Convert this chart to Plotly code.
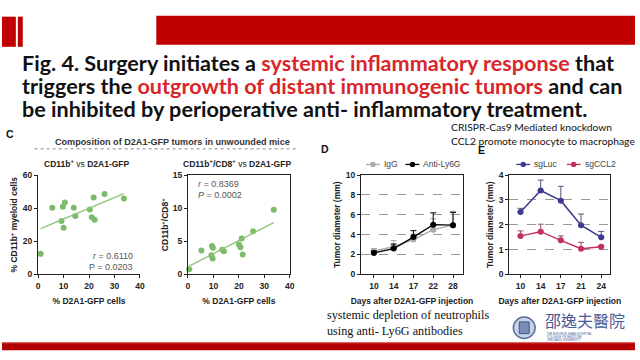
import numpy as np
import plotly.graph_objects as go

W, H = 640, 360

# ---------------- data ----------------
# Panel C (left): CD11b+ vs D2A1-GFP
c1_gfp = [1.0, 5.6, 9.7, 10.5, 9.2, 10.0, 14.0, 14.6, 20.3, 21.8, 21.1, 22.2, 26.1, 33.7]
c1_cd11b = [12.4, 40.2, 40.8, 43.5, 32.2, 28.1, 40.2, 35.3, 39.2, 46.5, 34.5, 33.0, 48.6, 45.9]
# Panel C (right): CD11b+/CD8+ vs D2A1-GFP
c2_gfp = [0.5, 5.3, 9.4, 9.8, 9.2, 9.7, 13.5, 14.1, 20.0, 20.6, 21.5, 21.1, 25.6, 33.7]
c2_ratio = [0.78, 3.6, 4.3, 4.0, 2.9, 2.4, 3.7, 3.5, 4.5, 4.1, 3.0, 5.4, 6.5, 9.75]

# Panel D
d_days = ["10", "14", "17", "22", "28"]
d_names = ["IgG", "Anti-Ly6G"]
d_igg = [2.35, 2.8, 3.5, 4.5, 4.95]
d_igg_err = [0.25, 0.6, 0.55, 1.1, 1.4]
d_ly6g = [2.15, 2.6, 3.75, 5.0, 4.95]
d_ly6g_err = [0.2, 0.45, 0.65, 1.2, 1.3]

# Panel E
e_days = ["10", "14", "17", "21", "24"]
e_names = ["sgLuc", "sgCCL2"]
e_sgluc = [2.51, 3.38, 2.97, 1.98, 1.49]
e_sgluc_err = [0.15, 0.42, 0.58, 0.45, 0.24]
e_sgccl2 = [1.55, 1.72, 1.37, 1.03, 1.11]
e_sgccl2_err = [0.2, 0.3, 0.18, 0.26, 0.04]
e_sig = ["**", "*", "*", "", ""]

GREEN = "#7dbb6a"
GREEN_LINE = "#8cc47a"
GRAY = "#aaaaaa"
BLACK = "#000000"
NAVY = "#3d3b8e"
CRIMSON = "#c2315b"
RED = "#c00000"
TXT = "#222222"


def fx(px):
    return px / W


def fy(py):
    return 1 - py / H


fig = go.Figure()

# ---- C1 ----
fig.add_trace(go.Scatter(x=c1_gfp, y=c1_cd11b, mode="markers", xaxis="x", yaxis="y",
                         marker=dict(color=GREEN, size=6), cliponaxis=False))
k1 = np.polyfit(c1_gfp, c1_cd11b, 1)
xs1 = [min(c1_gfp), max(c1_gfp)]
fig.add_trace(go.Scatter(x=xs1, y=list(np.polyval(k1, xs1)), mode="lines", xaxis="x", yaxis="y",
                         line=dict(color=GREEN_LINE, width=1.3)))

# ---- C2 ----
fig.add_trace(go.Scatter(x=c2_gfp, y=c2_ratio, mode="markers", xaxis="x2", yaxis="y2",
                         marker=dict(color=GREEN, size=6), cliponaxis=False))
k2 = np.polyfit(c2_gfp, c2_ratio, 1)
xs2 = [min(c2_gfp), max(c2_gfp)]
fig.add_trace(go.Scatter(x=xs2, y=list(np.polyval(k2, xs2)), mode="lines", xaxis="x2", yaxis="y2",
                         line=dict(color=GREEN_LINE, width=1.3)))


def series(x, y, err, name, color, errcolor, xa, ya, lw):
    fig.add_trace(go.Scatter(x=x, y=y, mode="lines+markers", name=name, xaxis=xa, yaxis=ya,
                             line=dict(color=color, width=lw), marker=dict(color=color, size=6),
                             error_y=dict(type="data", array=err, arrayminus=[0] * len(err), symmetric=False,
                                          color=errcolor, width=3, thickness=1),
                             cliponaxis=False))


series(d_days, d_igg, d_igg_err, d_names[0], GRAY, GRAY, "x3", "y3", 1.3)
series(d_days, d_ly6g, d_ly6g_err, d_names[1], BLACK, BLACK, "x3", "y3", 1.3)
series(e_days, e_sgluc, e_sgluc_err, e_names[0], NAVY, "#555577", "x4", "y4", 1.5)
series(e_days, e_sgccl2, e_sgccl2_err, e_names[1], CRIMSON, "#885566", "x4", "y4", 1.5)

AX_FONT = dict(family="Liberation Sans, Arial", size=8.5, color=TXT, weight="bold")
common = dict(showline=True, linecolor="#222", linewidth=1.2, ticks="outside", ticklen=3,
              tickwidth=1, tickcolor="#222", tickfont=AX_FONT, zeroline=False, showgrid=False)

ytitle_font = dict(family="Liberation Sans, Arial", size=8.5, color=TXT, weight="bold")
grid = {"showgrid": True, "gridcolor": "#999", "gridwidth": 0.8, "griddash": "dash"}

fig.update_layout(
    width=W, height=H, margin=dict(l=0, r=0, t=0, b=0), showlegend=False,
    paper_bgcolor="white", plot_bgcolor="white",
    xaxis=dict(domain=[fx(36.5), fx(139.5)], range=[0, 40], tickvals=[0, 10, 20, 30, 40], anchor="y",
               title=dict(text="% D2A1-GFP cells", font=ytitle_font, standoff=8), **common),
    yaxis=dict(domain=[fy(277), fy(175)], range=[0, 60], tickvals=[0, 20, 40, 60], anchor="x",
               title=dict(text="% CD11b<sup>+</sup> myeloid cells", font=ytitle_font, standoff=3), **common),
    xaxis2=dict(domain=[fx(188), fx(291)], range=[0, 40], tickvals=[0, 10, 20, 30, 40], anchor="y2",
                mirror=True, title=dict(text="% D2A1-GFP cells", font=ytitle_font, standoff=8), **common),
    yaxis2=dict(domain=[fy(277), fy(175)], range=[0, 15], tickvals=[0, 5, 10, 15], anchor="x2",
                mirror=True, title=dict(text="CD11b<sup>+</sup>/CD8<sup>+</sup>", font=ytitle_font, standoff=2),
                **common),
    xaxis3=dict(domain=[fx(363), fx(466)], type="category", range=[-0.65, 4.5], anchor="y3", mirror=True,
                title=dict(text="Days after D2A1-GFP injection", font=ytitle_font, standoff=8), **common),
    yaxis3=dict(domain=[fy(277), fy(175)], range=[0, 10], tickvals=[0, 2, 4, 6, 8, 10], anchor="x3",
                mirror=True, title=dict(text="Tumor diameter (mm)", font=ytitle_font, standoff=3),
                **{**common, **grid}),
    xaxis4=dict(domain=[fx(513), fx(615)], type="category", range=[-0.55, 4.45], anchor="y4", mirror=True,
                title=dict(text="Days after D2A1-GFP injection", font=ytitle_font, standoff=8), **common),
    yaxis4=dict(domain=[fy(277), fy(175)], range=[0, 4], tickvals=[0, 1, 2, 3, 4], anchor="x4",
                mirror=True, title=dict(text="Tumor diameter (mm)", font=ytitle_font, standoff=3),
                **{**common, **grid}),
)

shapes = []
ann = []


def rect(x0, x1, y0, y1, fill, line=None, kind="rect"):
    shapes.append(dict(type=kind, xref="paper", yref="paper", x0=fx(x0), x1=fx(x1), y0=fy(y1), y1=fy(y0),
                       fillcolor=fill, line=line or dict(width=0), layer="below" if line is None else "above"))


def note(text, x, y, font, xa="left", ya="middle"):
    ann.append(dict(text=text, x=fx(x), y=fy(y), xref="paper", yref="paper", xanchor=xa, yanchor=ya,
                    showarrow=False, font=font))


# top red decorations
rect(0, 14, 12, 43, RED)
rect(16, 21, 12, 43, RED)
rect(156, 640, 11, 41, RED)
# bottom bar
rect(0, 640, 347, 355, "#b30000")
rect(0, 640, 346.5, 348, "#e06060")
# dotted separator in C
shapes.append(dict(type="line", xref="paper", yref="paper", x0=fx(33), x1=fx(300), y0=fy(148), y1=fy(148),
                   line=dict(color="#888", width=1, dash="dot")))
# logo emblem
rect(517, 539, 321, 343, "#c9d3e6", dict(color="#5a6f9e", width=1.5), kind="circle")
rect(523, 533, 326, 338, "#7a8cb8", dict(color="#3f5590", width=1))

# legends (drawn as small glyphs + labels)
leg_font = dict(family="Liberation Sans, Arial", size=8.5, color="#444")
for name, color, mx in [(d_names[0], GRAY, 375), (d_names[1], BLACK, 415),
                        (e_names[0], NAVY, 527), (e_names[1], CRIMSON, 578)]:
    shapes.append(dict(type="line", xref="paper", yref="paper", x0=fx(mx - 7), x1=fx(mx + 7),
                       y0=fy(164), y1=fy(164), line=dict(color=color, width=1.3)))
    shapes.append(dict(type="circle", xref="paper", yref="paper", x0=fx(mx - 2.7), x1=fx(mx + 2.7),
                       y0=fy(166.7), y1=fy(161.3), fillcolor=color, line=dict(width=0)))
    note(name, mx + 9, 164, leg_font)

fig.update_layout(shapes=shapes)

TITLE_FONT = dict(family="Lato, Liberation Sans", size=21.6, color="#111", weight="bold")
tr = "#d8262a"
title_lines = [
    "Fig. 4. Surgery initiates a <span style='color:%s'>systemic inflammatory response</span> that" % tr,
    "triggers the <span style='color:%s'>outgrowth of distant immunogenic tumors</span> and can" % tr,
    "be inhibited by perioperative anti- inflammatory treatment.",
]
for i, t in enumerate(title_lines):
    note(t, 18, 59.5 + 23.5 * i, TITLE_FONT)

# panel letters
for lab, x, y in [("C", 8, 133), ("D", 327, 148), ("E", 485, 149)]:
    note("<b>%s</b>" % lab, x, y, dict(family="Liberation Sans, Arial", size=10.5, color="#111"), xa="center")

small = dict(family="Liberation Sans, Arial", size=8.5, color=TXT)
note("<b>Composition of D2A1-GFP tumors in unwounded mice</b>", 172, 141,
     dict(family="Liberation Sans, Arial", size=9.1, color="#333"), xa="center")
note("<b>CD11b<sup>+</sup></b> vs <b>D2A1-GFP</b>", 86, 163, small, xa="center")
note("<b>CD11b<sup>+</sup>/CD8<sup>+</sup></b> vs <b>D2A1-GFP</b>", 238, 163, small, xa="center")

stat_font = dict(family="Liberation Sans, Arial", size=9, color="#555")
note("<i>r</i> = 0.6110", 134, 258, stat_font, xa="right")
note("P = 0.0203", 134, 269, stat_font, xa="right")
note("<i>r</i> = 0.8369", 196, 184, stat_font)
note("<i>P</i> = 0.0002", 196, 195, stat_font)

# significance marks in E
for d, v, s in zip(e_days, e_sgccl2, e_sig):
    if s:
        ann.append(dict(text=s, x=d, y=v, xref="x4", yref="y4", yshift=-10, showarrow=False,
                        xanchor="center", yanchor="middle",
                        font=dict(family="Liberation Sans, Arial", size=8, color=CRIMSON)))

note_font = dict(family="Lato, Liberation Sans", size=10.3, color="#111")
note("CRISPR-Cas9 Mediated knockdown", 452, 126, note_font)
note("CCL2 promote monocyte to macrophage", 452, 140, note_font)

serif = dict(family="Liberation Serif, Times New Roman", size=12.2, color="#111")
note("systemic depletion of neutrophils", 327, 319, serif)
note("using anti- Ly6G antibodies", 327, 335, serif)

# logo text
note("邵逸夫醫院", 547, 324.5, dict(family="Noto Sans CJK TC", size=16, color="#4a5a98"))
for i, t in enumerate(["SIR RUN RUN SHAW HOSPITAL", "COLLEGE OF MEDICINE", "ZHEJIANG UNIVERSITY"]):
    note(t, 549, 338 + 3.3 * i, dict(family="Liberation Sans", size=3, color="#4a5a98"))

fig.update_layout(annotations=ann)
fig.write_html("out.html", config={"displayModeBar": False},
               post_script="document.body.style.margin='0';document.body.style.padding='0';")
